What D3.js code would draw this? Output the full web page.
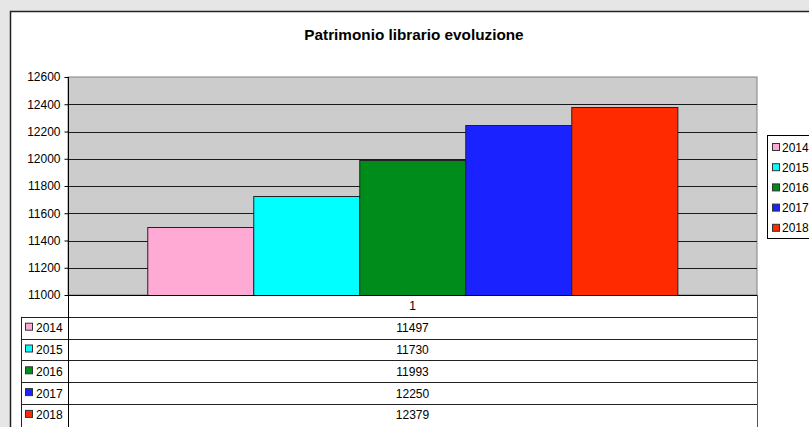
<!DOCTYPE html>
<html>
<head>
<meta charset="utf-8">
<script src="https://cdn.jsdelivr.net/npm/d3@7"></script>
<style>
  html, body { margin: 0; padding: 0; background: #e6e6e6; }
  svg { display: block; font-family: "Liberation Sans", Arial, sans-serif; }
</style>
</head>
<body>
<div id="chart"></div>
<script>
// data
const title = "Patrimonio librario evoluzione";
const categories = ["1"];
const years = ["2014", "2015", "2016", "2017", "2018"];
const values = [11497, 11730, 11993, 12250, 12379];
const yearColors = ["#ffaad5", "#00ffff", "#008c1a", "#1a23ff", "#ff2a00"];
const yTicks = [11000, 11200, 11400, 11600, 11800, 12000, 12200, 12400, 12600];

const width = 809, height = 427;
const plot = {left: 68, right: 757, top: 77, bottom: 295};
const tableLeft = 21, rowH = 21.8;

const svg = d3.select("#chart").append("svg")
    .attr("width", width)
    .attr("height", height);

// white chart sheet with dark top/left edge
svg.append("rect")
    .attr("x", 10).attr("y", 12)
    .attr("width", width).attr("height", height)
    .attr("fill", "#fff");
svg.append("path")
    .attr("d", `M10.5,${height}V11.5H${width}`)
    .attr("fill", "none")
    .attr("stroke", "#222")
    .attr("stroke-width", 1.5);

svg.append("text")
    .attr("x", 414).attr("y", 40)
    .attr("text-anchor", "middle")
    .attr("font-size", 15.3).attr("font-weight", "bold")
    .text(title);

const x0 = d3.scaleBand()
    .domain(categories)
    .range([plot.left, plot.right])
    .padding(0.13);

const x1 = d3.scaleBand()
    .domain(years)
    .range([0, x0.bandwidth()]);

const y = d3.scaleLinear()
    .domain([11000, 12600])
    .range([plot.bottom, plot.top]);

// plot background
svg.append("rect")
    .attr("x", plot.left).attr("y", plot.top)
    .attr("width", plot.right - plot.left).attr("height", plot.bottom - plot.top)
    .attr("fill", "#cccccc")
    .attr("stroke", "#808080");

// gridlines
svg.append("g")
  .selectAll("line")
  .data(yTicks.slice(1, -1))
  .join("line")
    .attr("x1", plot.left).attr("x2", plot.right)
    .attr("y1", d => Math.round(y(d)) + 0.5)
    .attr("y2", d => Math.round(y(d)) + 0.5)
    .attr("stroke", "#1a1a1a");

// bars
svg.append("g")
  .selectAll("g")
  .data(categories)
  .join("g")
    .attr("transform", d => `translate(${x0(d)},0)`)
  .selectAll("rect")
  .data(years.map((yr, i) => ({yr, v: values[i], c: yearColors[i]})))
  .join("rect")
    .attr("x", d => Math.round(x1(d.yr)) + 0.5)
    .attr("y", d => Math.round(y(d.v)) + 0.5)
    .attr("width", x1.bandwidth())
    .attr("height", d => y(11000) - Math.round(y(d.v)))
    .attr("fill", d => d.c)
    .attr("stroke", "#222");

// y axis
svg.append("g")
    .attr("transform", `translate(${plot.left + 0.5},0)`)
    .call(d3.axisLeft(y).tickValues(yTicks).tickFormat(d3.format("d")).tickSize(4).tickSizeOuter(0))
    .call(g => g.select(".domain").remove())
    .call(g => g.selectAll(".tick line").attr("stroke", "#000"))
    .call(g => g.selectAll(".tick text")
        .attr("font-size", 12)
        .attr("font-family", "Liberation Sans, Arial, sans-serif")
        .attr("fill", "#000")
        .attr("dx", -1));

// data table
const tableTop = plot.bottom;
const table = svg.append("g").attr("stroke", "#222").attr("fill", "none");

// axis line / table top
table.append("line")
    .attr("x1", plot.left).attr("x2", plot.right)
    .attr("y1", tableTop + 0.5).attr("y2", tableTop + 0.5)
    .attr("stroke", "#000");
table.selectAll("line.row")
  .data(d3.range(1, years.length + 1))
  .join("line")
    .attr("class", "row")
    .attr("x1", tableLeft).attr("x2", plot.right)
    .attr("y1", i => Math.round(tableTop + i * rowH) + 0.5)
    .attr("y2", i => Math.round(tableTop + i * rowH) + 0.5);
table.append("line")
    .attr("x1", plot.left + 0.5).attr("x2", plot.left + 0.5)
    .attr("y1", plot.top).attr("y2", height)
    .attr("stroke", "#000");
table.append("line")
    .attr("x1", tableLeft + 0.5).attr("x2", tableLeft + 0.5)
    .attr("y1", tableTop + rowH).attr("y2", height);
table.append("line")
    .attr("x1", plot.right + 0.5).attr("x2", plot.right + 0.5)
    .attr("y1", tableTop).attr("y2", height)
    .attr("stroke", "#555");

const cx = (plot.left + plot.right) / 2;
svg.append("text")
    .attr("x", cx).attr("y", tableTop + rowH / 2 + 4)
    .attr("text-anchor", "middle")
    .attr("font-size", 12)
    .text(categories[0]);

const rows = svg.append("g")
  .selectAll("g")
  .data(years)
  .join("g")
    .attr("transform", (d, i) => `translate(0,${tableTop + (i + 1) * rowH})`);
rows.append("rect")
    .attr("x", 25.5).attr("y", rowH / 2 - 4.5)
    .attr("width", 7).attr("height", 7)
    .attr("fill", (d, i) => yearColors[i])
    .attr("stroke", "#333");
rows.append("text")
    .attr("x", 36).attr("y", rowH / 2 + 4.5)
    .attr("font-size", 12)
    .text(d => d);
rows.append("text")
    .attr("x", cx).attr("y", rowH / 2 + 4.5)
    .attr("text-anchor", "middle")
    .attr("font-size", 12)
    .text((d, i) => values[i]);

// legend
const legend = svg.append("g");
legend.append("rect")
    .attr("x", 767.5).attr("y", 135.5)
    .attr("width", 60).attr("height", 103)
    .attr("fill", "#fff")
    .attr("stroke", "#000");
const items = legend.selectAll("g")
  .data(years)
  .join("g")
    .attr("transform", (d, i) => `translate(0,${147 + i * 20.2})`);
items.append("rect")
    .attr("x", 772.5).attr("y", -3.5)
    .attr("width", 7).attr("height", 7)
    .attr("fill", (d, i) => yearColors[i])
    .attr("stroke", "#333");
items.append("text")
    .attr("x", 782).attr("y", 4.5)
    .attr("font-size", 12)
    .text(d => d);
</script>
</body>
</html>
